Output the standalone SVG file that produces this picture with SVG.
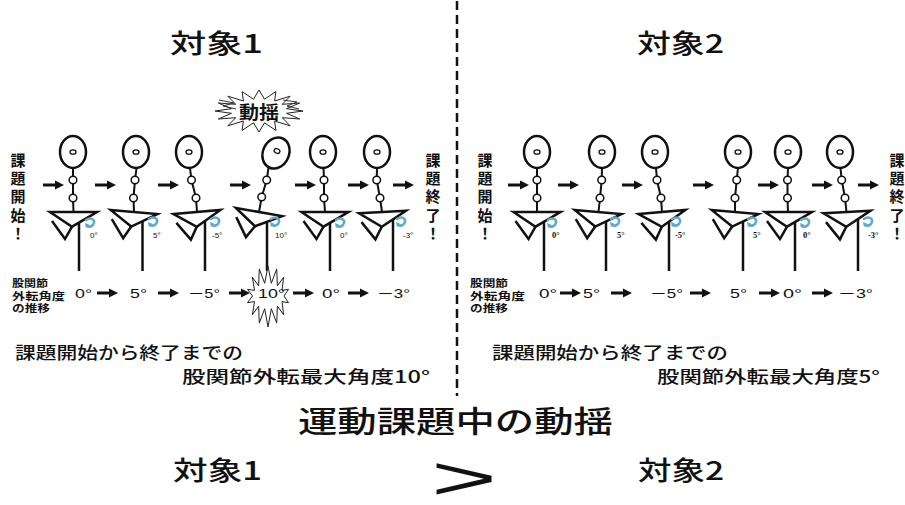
<svg xmlns="http://www.w3.org/2000/svg" xmlns:xlink="http://www.w3.org/1999/xlink" width="905" height="505" viewBox="0 0 905 505">
  <style>
    .jp { font-family: "Noto Sans CJK JP", "Noto Sans", sans-serif; font-weight: 500; fill: #111; }
    .jpb { font-family: "Noto Sans CJK JP", "Noto Sans", sans-serif; font-weight: bold; fill: #111; }
    .val { font-family: "Liberation Sans", "Noto Sans CJK JP", sans-serif; font-size: 13px; fill: #111; }
    .deg { font-family: "Liberation Sans", sans-serif; font-size: 8px; fill: #111; }
    .degs { font-family: "Liberation Serif", serif; font-weight: bold; font-size: 8.5px; fill: #111; }
    .head { fill: #fff; stroke: #111; stroke-width: 2.5; }
    .eye { fill: none; stroke: #111; stroke-width: 1.3; }
    .trunk { fill: none; stroke: #111; stroke-width: 2; }
    .joint { fill: #fff; stroke: #111; stroke-width: 1.5; }
    .limb { fill: none; stroke: #111; stroke-width: 2.5; stroke-linejoin: miter; }
    .hip { fill: #fff; stroke: #111; stroke-width: 2.5; stroke-linejoin: miter; }
    .burst { fill: #fff; stroke: #222; stroke-width: 1; }
    .zig { fill: none; stroke: #333; stroke-width: 1; }
    .curl { fill: none; stroke: #5ea9cc; stroke-width: 2.6; stroke-linecap: round; }
    .divider { stroke: #111; stroke-width: 2.5; stroke-dasharray: 9 5; }
    .small { font-family: "Noto Sans CJK JP", "Noto Sans", sans-serif; font-weight: bold; font-size: 10.5px; fill: #111; }
  </style>
  <defs>
    <!-- pelvis wedge with the bent left leg, origin at the hip centre -->
    <g id="pelvis">
      <polyline class="limb" points="-21.5,9 -8.5,27 -1.5,14.7"/>
      <polygon class="hip" points="-23.5,0 23.5,0 -1.5,14.7"/>
    </g>
    <!-- small rotation mark beside the hip -->
    <g id="curl">
      <path class="curl" d="M0,1 C4,-2 9,0 8,4 C7,8 3,8 1,7"/>
      <polygon points="-1,4 3,5.5 0,9" fill="#5ea9cc"/>
    </g>
    <!-- short black arrow -->
    <g id="arw">
      <rect x="0" y="-1.5" width="14" height="3" fill="#111"/>
      <polygon points="12,-4.5 21,0 12,4.5" fill="#111"/>
    </g>
  </defs>

  <rect width="905" height="505" fill="#fff"/>

  <line class="divider" x1="457" y1="1" x2="457" y2="396"/>

  <!-- titles -->
  <g id="title-1"><text class="jp" x="170" y="53" font-size="26" textLength="93" lengthAdjust="spacingAndGlyphs">対象1</text></g>
  <g id="title-2"><text class="jp" x="637" y="53" font-size="26" textLength="87" lengthAdjust="spacingAndGlyphs">対象2</text></g>

  <!-- start / end labels, one character per line -->
  <g id="start-1">
    <text class="jpb" font-size="15" text-anchor="middle" x="18" y="166"><tspan x="18">課</tspan><tspan x="18" dy="18.2">題</tspan><tspan x="18" dy="18.2">開</tspan><tspan x="18" dy="18.2">始</tspan><tspan x="18" dy="18.2">！</tspan></text>
  </g>
  <g id="end-1">
    <text class="jpb" font-size="15" text-anchor="middle" x="433" y="166"><tspan x="433">課</tspan><tspan x="433" dy="18.2">題</tspan><tspan x="433" dy="18.2">終</tspan><tspan x="433" dy="18.2">了</tspan><tspan x="433" dy="18.2">！</tspan></text>
  </g>
  <g id="start-2">
    <text class="jpb" font-size="15" text-anchor="middle" x="485" y="166"><tspan x="485">課</tspan><tspan x="485" dy="18.2">題</tspan><tspan x="485" dy="18.2">開</tspan><tspan x="485" dy="18.2">始</tspan><tspan x="485" dy="18.2">！</tspan></text>
  </g>
  <g id="end-2">
    <text class="jpb" font-size="15" text-anchor="middle" x="897" y="166"><tspan x="897">課</tspan><tspan x="897" dy="18.2">題</tspan><tspan x="897" dy="18.2">終</tspan><tspan x="897" dy="18.2">了</tspan><tspan x="897" dy="18.2">！</tspan></text>
  </g>

  <!-- shake burst above figure 4 -->
  <g id="burst-shake">
    <polygon class="burst" points="259,90 264.5,99.2 275.9,91.6 274.6,101 290.1,96.2 282.3,104.3 299.7,103 286.5,108.7 303,111 286.5,113.3 299.7,119 282.3,117.7 290.1,125.8 274.6,121 275.9,130.4 264.5,122.8 259,132 253.5,122.8 242.1,130.4 243.4,121 227.9,125.8 235.7,117.7 218.3,119 231.5,113.3 215,111 231.5,108.7 218.3,103 235.7,104.3 227.9,96.2 243.4,101 242.1,91.6 253.5,99.2"/>
    <polyline class="zig" points="219,100 234,103 223,106 236,109"/>
    <polyline class="zig" points="283,100 297,102 287,106 299,109"/>
    <text class="jpb" x="239" y="119" font-size="18" textLength="40" lengthAdjust="spacingAndGlyphs">動揺</text>
  </g>

  <!-- subject 1 figures -->
  <g id="s1-f1">
    <line class="limb" x1="79" y1="218" x2="79" y2="271"/>
    <use xlink:href="#pelvis" transform="translate(73.5,212)"/>
    <polyline class="trunk" points="73,168 73,180 73,198 73.5,212"/>
    <circle class="joint" cx="73" cy="180" r="3.8"/>
    <circle class="joint" cx="73" cy="198" r="3.8"/>
    <ellipse class="head" cx="73" cy="152" rx="13" ry="16"/>
    <ellipse class="eye" cx="73" cy="152" rx="3" ry="2.2"/>
    <use xlink:href="#curl" transform="translate(86,219)"/>
    <text class="deg" x="90" y="238">0°</text>
  </g>
  <g id="s1-f2">
    <line class="limb" x1="142.5" y1="218" x2="142.5" y2="271"/>
    <use xlink:href="#pelvis" transform="translate(134,212) rotate(5)"/>
    <polyline class="trunk" points="136.5,168 135,180 133.5,198 134,212"/>
    <circle class="joint" cx="135" cy="180" r="3.8"/>
    <circle class="joint" cx="133.5" cy="198" r="3.8"/>
    <ellipse class="head" cx="136" cy="152" rx="13" ry="16"/>
    <ellipse class="eye" cx="136" cy="152" rx="3" ry="2.2"/>
    <use xlink:href="#curl" transform="translate(149,218)"/>
    <text class="deg" x="153" y="238">5°</text>
  </g>
  <g id="s1-f3">
    <line class="limb" x1="205" y1="218" x2="205" y2="271"/>
    <use xlink:href="#pelvis" transform="translate(197,212) rotate(-5)"/>
    <polyline class="trunk" points="190,168 191.5,180 196,198 197,212"/>
    <circle class="joint" cx="191.5" cy="180" r="3.8"/>
    <circle class="joint" cx="196" cy="198" r="3.8"/>
    <ellipse class="head" cx="189" cy="152" rx="13" ry="16"/>
    <ellipse class="eye" cx="189" cy="152" rx="3" ry="2.2"/>
    <use xlink:href="#curl" transform="translate(211,218)"/>
    <text class="deg" x="212" y="238">-5°</text>
  </g>
  <g id="s1-f4">
    <line class="limb" x1="267" y1="218" x2="267" y2="271"/>
    <use xlink:href="#pelvis" transform="translate(259,212) rotate(10)"/>
    <polyline class="trunk" points="268.5,168 266.7,180 261.7,197 259,212"/>
    <circle class="joint" cx="266.7" cy="180" r="3.8"/>
    <circle class="joint" cx="261.7" cy="197" r="3.8"/>
    <ellipse class="head" cx="276" cy="153" rx="13" ry="16" transform="rotate(25 276 153)"/>
    <ellipse class="eye" cx="277" cy="151" rx="3" ry="2.2" transform="rotate(25 277 151)"/>
    <use xlink:href="#curl" transform="translate(271,218)"/>
    <text class="deg" x="275" y="238">10°</text>
  </g>
  <g id="s1-f5">
    <line class="limb" x1="330" y1="218" x2="330" y2="271"/>
    <use xlink:href="#pelvis" transform="translate(325,212)"/>
    <polyline class="trunk" points="323.5,168 324,180 324,198 325,212"/>
    <circle class="joint" cx="324" cy="180" r="3.8"/>
    <circle class="joint" cx="324" cy="198" r="3.8"/>
    <ellipse class="head" cx="323" cy="152" rx="13" ry="16"/>
    <ellipse class="eye" cx="323" cy="152" rx="3" ry="2.2"/>
    <use xlink:href="#curl" transform="translate(336,219)"/>
    <text class="deg" x="340" y="238">0°</text>
  </g>
  <g id="s1-f6">
    <line class="limb" x1="393" y1="218" x2="393" y2="271"/>
    <use xlink:href="#pelvis" transform="translate(382.5,212) rotate(-3)"/>
    <polyline class="trunk" points="377,168 376.7,180 380,198 382,212"/>
    <circle class="joint" cx="376.7" cy="180" r="3.8"/>
    <circle class="joint" cx="380" cy="198" r="3.8"/>
    <ellipse class="head" cx="377" cy="152" rx="13" ry="16"/>
    <ellipse class="eye" cx="377" cy="152" rx="3" ry="2.2"/>
    <use xlink:href="#curl" transform="translate(397,218)"/>
    <text class="deg" x="403" y="238">-3°</text>
  </g>

  <!-- subject 2 figures -->
  <g id="s2-f1">
    <line class="limb" x1="544" y1="218" x2="544" y2="271"/>
    <use xlink:href="#pelvis" transform="translate(537,212)"/>
    <polyline class="trunk" points="537,168 537,180 537,198 537,212"/>
    <circle class="joint" cx="537" cy="180" r="3.8"/>
    <circle class="joint" cx="537" cy="198" r="3.8"/>
    <ellipse class="head" cx="537" cy="152" rx="13" ry="16"/>
    <ellipse class="eye" cx="537" cy="152" rx="3" ry="2.2"/>
    <use xlink:href="#curl" transform="translate(548,219)"/>
    <text class="degs" x="552" y="238">0°</text>
  </g>
  <g id="s2-f2">
    <line class="limb" x1="606" y1="218" x2="606" y2="271"/>
    <use xlink:href="#pelvis" transform="translate(598,212) rotate(5)"/>
    <polyline class="trunk" points="602,168 601.7,180 600,198 598.5,212"/>
    <circle class="joint" cx="601.7" cy="180" r="3.8"/>
    <circle class="joint" cx="600" cy="198" r="3.8"/>
    <ellipse class="head" cx="602" cy="152" rx="13" ry="16"/>
    <ellipse class="eye" cx="602" cy="152" rx="3" ry="2.2"/>
    <use xlink:href="#curl" transform="translate(611,218)"/>
    <text class="degs" x="617" y="238">5°</text>
  </g>
  <g id="s2-f3">
    <line class="limb" x1="669" y1="218" x2="669" y2="271"/>
    <use xlink:href="#pelvis" transform="translate(662,212) rotate(-5)"/>
    <polyline class="trunk" points="656,168 657,180 661,198 662,212"/>
    <circle class="joint" cx="657" cy="180" r="3.8"/>
    <circle class="joint" cx="661" cy="198" r="3.8"/>
    <ellipse class="head" cx="655" cy="152" rx="13" ry="16"/>
    <ellipse class="eye" cx="655" cy="152" rx="3" ry="2.2"/>
    <use xlink:href="#curl" transform="translate(672,218)"/>
    <text class="degs" x="675" y="238">-5°</text>
  </g>
  <g id="s2-f4">
    <line class="limb" x1="743" y1="218" x2="743" y2="271"/>
    <use xlink:href="#pelvis" transform="translate(735,212) rotate(5)"/>
    <polyline class="trunk" points="738,168 736.7,180 735,198 735,212"/>
    <circle class="joint" cx="736.7" cy="180" r="3.8"/>
    <circle class="joint" cx="735" cy="198" r="3.8"/>
    <ellipse class="head" cx="738" cy="152" rx="13" ry="16"/>
    <ellipse class="eye" cx="738" cy="152" rx="3" ry="2.2"/>
    <use xlink:href="#curl" transform="translate(748,218)"/>
    <text class="degs" x="753" y="238">5°</text>
  </g>
  <g id="s2-f5">
    <line class="limb" x1="795" y1="218" x2="795" y2="271"/>
    <use xlink:href="#pelvis" transform="translate(788.5,212)"/>
    <polyline class="trunk" points="788,168 787.5,180 787.5,198 788,212"/>
    <circle class="joint" cx="787.5" cy="180" r="3.8"/>
    <circle class="joint" cx="787.5" cy="198" r="3.8"/>
    <ellipse class="head" cx="788" cy="152" rx="13" ry="16"/>
    <ellipse class="eye" cx="788" cy="152" rx="3" ry="2.2"/>
    <use xlink:href="#curl" transform="translate(801,219)"/>
    <text class="degs" x="803" y="238">0°</text>
  </g>
  <g id="s2-f6">
    <line class="limb" x1="858" y1="218" x2="858" y2="271"/>
    <use xlink:href="#pelvis" transform="translate(847,212) rotate(-3)"/>
    <polyline class="trunk" points="840.5,168 841.7,180 845,198 846.5,212"/>
    <circle class="joint" cx="841.7" cy="180" r="3.8"/>
    <circle class="joint" cx="845" cy="198" r="3.8"/>
    <ellipse class="head" cx="840" cy="152" rx="13" ry="16"/>
    <ellipse class="eye" cx="840" cy="152" rx="3" ry="2.2"/>
    <use xlink:href="#curl" transform="translate(864,218)"/>
    <text class="degs" x="868" y="238">-3°</text>
  </g>

  <!-- peak-angle burst -->
  <g id="burst-peak">
    <polygon class="burst" points="268,266 271.3,283.3 276.7,269 277.4,285.8 283.6,277.3 282,290.4 288.5,289.3 284,296 288.5,302.7 282,301.6 283.6,314.7 277.4,306.2 276.7,323 271.3,308.7 268,327 264.7,308.7 259.3,323 258.6,306.2 252.4,314.7 254.5,301.6 247.5,302.7 252.5,296 247.5,289.3 254.5,290.4 252.4,277.3 258.6,285.8 259.3,269 264.7,283.3"/>
  </g>

  <!-- hip abduction angle rows -->
  <g id="angles-1">
    <text class="small" x="12" y="287"><tspan x="12" textLength="36" lengthAdjust="spacingAndGlyphs">股関節</tspan><tspan x="12" dy="12.5" textLength="53" lengthAdjust="spacingAndGlyphs">外転角度</tspan><tspan x="12" dy="12.5" textLength="38" lengthAdjust="spacingAndGlyphs">の推移</tspan></text>
    <text class="val" x="75" y="297.5" textLength="17" lengthAdjust="spacingAndGlyphs">0°</text>
    <text class="val" x="130" y="297.5" textLength="17" lengthAdjust="spacingAndGlyphs">5°</text>
    <text class="val" x="188" y="297.5" textLength="32" lengthAdjust="spacingAndGlyphs">－5°</text>
    <text class="val" x="258" y="297.5" textLength="27" lengthAdjust="spacingAndGlyphs">10°</text>
    <text class="val" x="322" y="297.5" textLength="18" lengthAdjust="spacingAndGlyphs">0°</text>
    <text class="val" x="377" y="297.5" textLength="33" lengthAdjust="spacingAndGlyphs">－3°</text>
  </g>
  <g id="angles-2">
    <text class="small" x="470" y="287"><tspan x="470" textLength="38" lengthAdjust="spacingAndGlyphs">股関節</tspan><tspan x="470" dy="12.5" textLength="55" lengthAdjust="spacingAndGlyphs">外転角度</tspan><tspan x="470" dy="12.5" textLength="38" lengthAdjust="spacingAndGlyphs">の推移</tspan></text>
    <text class="val" x="539" y="297.5" textLength="18" lengthAdjust="spacingAndGlyphs">0°</text>
    <text class="val" x="583" y="297.5" textLength="17" lengthAdjust="spacingAndGlyphs">5°</text>
    <text class="val" x="650" y="297.5" textLength="33" lengthAdjust="spacingAndGlyphs">－5°</text>
    <text class="val" x="730" y="297.5" textLength="17" lengthAdjust="spacingAndGlyphs">5°</text>
    <text class="val" x="783" y="297.5" textLength="19" lengthAdjust="spacingAndGlyphs">0°</text>
    <text class="val" x="838" y="297.5" textLength="35" lengthAdjust="spacingAndGlyphs">－3°</text>
  </g>

  <!-- connectors -->
  <g id="connectors">
    <use xlink:href="#arw" x="43" y="185"/>
    <use xlink:href="#arw" x="95" y="185"/>
    <use xlink:href="#arw" x="158" y="185"/>
    <use xlink:href="#arw" x="230" y="185"/>
    <use xlink:href="#arw" x="295" y="185"/>
    <use xlink:href="#arw" x="348" y="185"/>
    <use xlink:href="#arw" x="393" y="185"/>
    <use xlink:href="#arw" x="97" y="293"/>
    <use xlink:href="#arw" x="158" y="293"/>
    <use xlink:href="#arw" x="229" y="293"/>
    <use xlink:href="#arw" x="293" y="293"/>
    <use xlink:href="#arw" x="348" y="293"/>
    <use xlink:href="#arw" x="508" y="185"/>
    <use xlink:href="#arw" x="558" y="185"/>
    <use xlink:href="#arw" x="622" y="185"/>
    <use xlink:href="#arw" x="693" y="185"/>
    <use xlink:href="#arw" x="758" y="185"/>
    <use xlink:href="#arw" x="812" y="185"/>
    <use xlink:href="#arw" x="858" y="185"/>
    <use xlink:href="#arw" x="560" y="293"/>
    <use xlink:href="#arw" x="611" y="293"/>
    <use xlink:href="#arw" x="690" y="293"/>
    <use xlink:href="#arw" x="759" y="293"/>
    <use xlink:href="#arw" x="812" y="293"/>
  </g>

  <!-- summaries -->
  <g id="summary-1">
    <text class="jp" x="15" y="359" font-size="17" textLength="228" lengthAdjust="spacingAndGlyphs">課題開始から終了までの</text>
    <text class="jp" x="182" y="383" font-size="17" textLength="248" lengthAdjust="spacingAndGlyphs">股関節外転最大角度10°</text>
  </g>
  <g id="summary-2">
    <text class="jp" x="492" y="359" font-size="17" textLength="236" lengthAdjust="spacingAndGlyphs">課題開始から終了までの</text>
    <text class="jp" x="657" y="383" font-size="17" textLength="223" lengthAdjust="spacingAndGlyphs">股関節外転最大角度5°</text>
  </g>

  <!-- conclusion -->
  <g id="conclusion">
    <text class="jp" x="298" y="432" font-size="30" textLength="315" lengthAdjust="spacingAndGlyphs">運動課題中の動揺</text>
    <text class="jp" x="173" y="480" font-size="26" textLength="89" lengthAdjust="spacingAndGlyphs">対象1</text>
    <text x="0" y="0" font-family="Liberation Sans, sans-serif" font-size="58" fill="#111" transform="translate(431,499) scale(1.95,1.05)">&gt;</text>
    <text class="jp" x="638" y="480" font-size="26" textLength="86" lengthAdjust="spacingAndGlyphs">対象2</text>
  </g>
</svg>
